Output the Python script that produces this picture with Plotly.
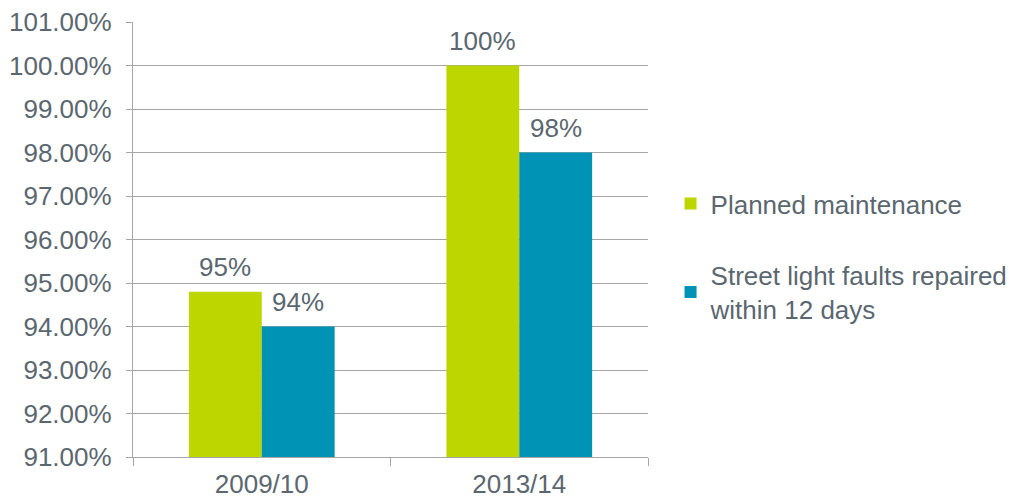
import plotly.graph_objects as go

categories = ["2009/10", "2013/14"]
planned = [94.8, 100.0]
street = [94.0, 98.0]
series_names = ["Planned maintenance", "Street light faults repaired<br>within 12 days"]
colors = ["#BED600", "#0093B5"]
ytick_vals = [91, 92, 93, 94, 95, 96, 97, 98, 99, 100, 101]
ytick_text = [f"{v:.2f}%" for v in ytick_vals]

txt = "#5B6770"
fam = "Liberation Sans, Arial, sans-serif"
font = dict(family=fam, size=26, color=txt)

bar_w = 0.283
offsets = [-bar_w, 0.0]

fig = go.Figure()
for i, (vals, name) in enumerate(zip([planned, street], series_names)):
    fig.add_trace(go.Bar(
        x=categories, y=vals, name=name, marker_color=colors[i],
        marker_line_width=0, width=bar_w, offset=offsets[i],
        legendgroup=str(i),
    ))
    for j, v in enumerate(vals):
        fig.add_annotation(
            x=j + offsets[i] + bar_w / 2, y=v, xref="x", yref="y",
            text=f"{v:.0f}%", showarrow=False, font=font,
            yanchor="middle", yshift=25,
        )

fig.update_layout(
    width=1016, height=500,
    margin=dict(l=133, r=368, t=22, b=43, autoexpand=False),
    plot_bgcolor="white", paper_bgcolor="white",
    font=font,
    barmode="overlay",
    showlegend=True,
    legend=dict(xref="container", yref="container", x=0.66, y=0.64,
                xanchor="left", yanchor="top", font=font,
                tracegroupgap=35, bgcolor="rgba(0,0,0,0)"),
    xaxis=dict(showline=True, linecolor="#A6A6A6", linewidth=1.3,
               ticks="outside", tickson="boundaries", ticklen=8,
               tickcolor="#A6A6A6", tickfont=font, showgrid=False,
               ticklabelstandoff=4, range=[-0.5, 1.5], automargin=False),
    yaxis=dict(range=[91, 101], tickvals=ytick_vals, ticktext=ytick_text,
               showline=True, linecolor="#A6A6A6", linewidth=1.3,
               ticks="outside", ticklen=6, tickcolor="#A6A6A6",
               showgrid=True, gridcolor="#A6A6A6", gridwidth=1.3,
               zeroline=False, tickfont=font, ticklabelstandoff=9,
               automargin=False),
)

fig.write_html("out.html")
